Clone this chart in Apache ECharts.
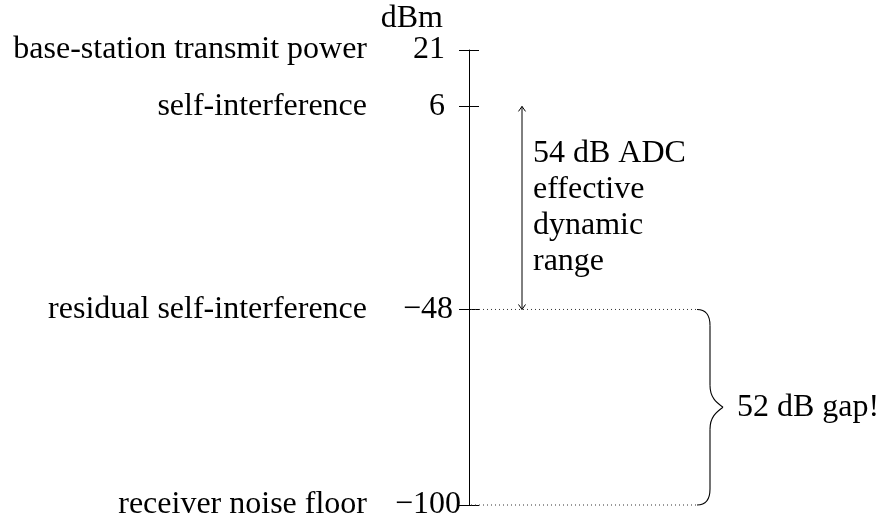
<!DOCTYPE html>
<html><head><meta charset="utf-8">
<script src="https://cdn.jsdelivr.net/npm/echarts@6/dist/echarts.min.js"></script>
<style>html,body{margin:0;padding:0;background:#fff}#c{width:887px;height:521px}</style>
</head><body><div id="c"></div>
<script>
// ---- data ----
const levelNames = ['base-station transmit power', 'self-interference', 'residual self-interference', 'receiver noise floor'];
const levelValues = [21, 6, -48, -100];
const tickLabels = ['21', '6', '\u221248', '\u2212100'];
const dottedLevels = [-48, -100];
const arrowRange = [6, -48];
const arrowText = '54 dB ADC\neffective\ndynamic\nrange';
const braceRange = [-48, -100];
const braceText = '52 dB gap!';
const axisName = 'dBm';

// ---- styles / layout ----
const FONT = 'Liberation Serif';
const FS = 32;
const X_MAX = 418;        // x axis in pixel-like units across the grid
const DOT_END = 228;
const ARROW_X = 53;
const BRACE_X = 228;

const chart = echarts.init(document.getElementById('c'), null, {renderer: 'canvas'});

function labelFor(v) {
  const i = levelValues.indexOf(v);
  if (i < 0) return '';
  if (v < 0) return '{n|' + levelNames[i] + '}{g|}{w|' + tickLabels[i] + '}';
  return '{n|' + levelNames[i] + '}{g|}{v|' + tickLabels[i] + '}{e|}';
}

const txt = {fontFamily: FONT, fontSize: FS, color: '#000'};

const option = {
  animation: false,
  backgroundColor: '#fff',
  grid: {left: 469, right: 0, top: 50, bottom: 13, containLabel: false},
  xAxis: {type: 'value', min: 0, max: X_MAX, show: false},
  yAxis: [
    {
      type: 'value', min: -100, max: 21, position: 'left',
      name: axisName, nameLocation: 'end', nameGap: 10,
      nameTextStyle: {fontFamily: FONT, fontSize: FS, color: '#000', align: 'right', padding: [0, 26, 0, 0]},
      axisLine: {show: true, lineStyle: {color: '#000', width: 1}},
      axisTick: {show: true, customValues: levelValues, length: 10, inside: false, lineStyle: {color: '#000', width: 1}},
      splitLine: {show: false},
      axisLabel: {
        show: true, customValues: levelValues, margin: 6,
        formatter: labelFor,
        rich: {
          n: Object.assign({}, txt),
          g: {width: 26},
          v: Object.assign({width: 52, align: 'right'}, txt),
          e: {width: 18},
          w: Object.assign({width: 70, align: 'left'}, txt)
        }
      }
    },
    {
      type: 'value', min: -100, max: 21, position: 'left', offset: 0,
      axisLine: {show: false},
      axisTick: {show: true, customValues: levelValues, length: 10, inside: true, lineStyle: {color: '#000', width: 1}},
      axisLabel: {show: false},
      splitLine: {show: false}
    }
  ],
  series: [
    {
      type: 'custom', coordinateSystem: 'cartesian2d', silent: true,
      data: dottedLevels.map(v => [0, v]),
      renderItem: function (params, api) {
        const v = api.value(1);
        const p0 = api.coord([0, v]);
        const p1 = api.coord([DOT_END, v]);
        return {type: 'line', shape: {x1: p0[0] + 2, y1: p0[1], x2: p1[0], y2: p1[1]},
          style: {stroke: '#333', lineWidth: 1, lineDash: [1, 3]}};
      }
    },
    {
      type: 'custom', coordinateSystem: 'cartesian2d', silent: true,
      data: [[ARROW_X, arrowRange[0], arrowRange[1]]],
      renderItem: function (params, api) {
        const pT = api.coord([api.value(0), api.value(1)]);
        const pB = api.coord([api.value(0), api.value(2)]);
        const x = pT[0];
        const st = {stroke: '#000', lineWidth: 1, fill: null};
        return {type: 'group', children: [
          {type: 'line', shape: {x1: x, y1: pT[1], x2: x, y2: pB[1]}, style: st},
          {type: 'polyline', shape: {points: [[x - 3.5, pT[1] + 5], [x, pT[1]], [x + 3.5, pT[1] + 5]]}, style: st},
          {type: 'polyline', shape: {points: [[x - 3.5, pB[1] - 5], [x, pB[1]], [x + 3.5, pB[1] - 5]]}, style: st},
          {type: 'text', x: x + 11, y: (pT[1] + pB[1]) / 2,
            style: {text: arrowText, fontFamily: FONT, fontSize: FS, fill: '#000', align: 'left', verticalAlign: 'middle', lineHeight: 36}}
        ]};
      }
    },
    {
      type: 'custom', coordinateSystem: 'cartesian2d', silent: true,
      data: [[BRACE_X, braceRange[0], braceRange[1]]],
      renderItem: function (params, api) {
        const pT = api.coord([api.value(0), api.value(1)]);
        const pB = api.coord([api.value(0), api.value(2)]);
        const x0 = pT[0], yT = pT[1], yB = pB[1], yM = (yT + yB) / 2;
        const xv = x0 + 13, xt = x0 + 26;
        const st = {stroke: '#000', lineWidth: 1.1, fill: null};
        return {type: 'group', children: [
          {type: 'bezierCurve', shape: {x1: x0, y1: yT, cpx1: x0 + 9, cpy1: yT, cpx2: xv, cpy2: yT + 5, x2: xv, y2: yT + 16}, style: st},
          {type: 'line', shape: {x1: xv, y1: yT + 16, x2: xv, y2: yM - 22}, style: st},
          {type: 'bezierCurve', shape: {x1: xv, y1: yM - 22, cpx1: xv, cpy1: yM - 10, cpx2: xv + 6, cpy2: yM - 5, x2: xt, y2: yM}, style: st},
          {type: 'bezierCurve', shape: {x1: xt, y1: yM, cpx1: xv + 6, cpy1: yM + 5, cpx2: xv, cpy2: yM + 10, x2: xv, y2: yM + 22}, style: st},
          {type: 'line', shape: {x1: xv, y1: yM + 22, x2: xv, y2: yB - 16}, style: st},
          {type: 'bezierCurve', shape: {x1: xv, y1: yB - 16, cpx1: xv, cpy1: yB - 5, cpx2: x0 + 9, cpy2: yB, x2: x0, y2: yB}, style: st},
          {type: 'text', x: xt + 14, y: yM,
            style: {text: braceText, fontFamily: FONT, fontSize: FS, fill: '#000', align: 'left', verticalAlign: 'middle'}}
        ]};
      }
    }
  ]
};
chart.setOption(option);
</script>
</body></html>
